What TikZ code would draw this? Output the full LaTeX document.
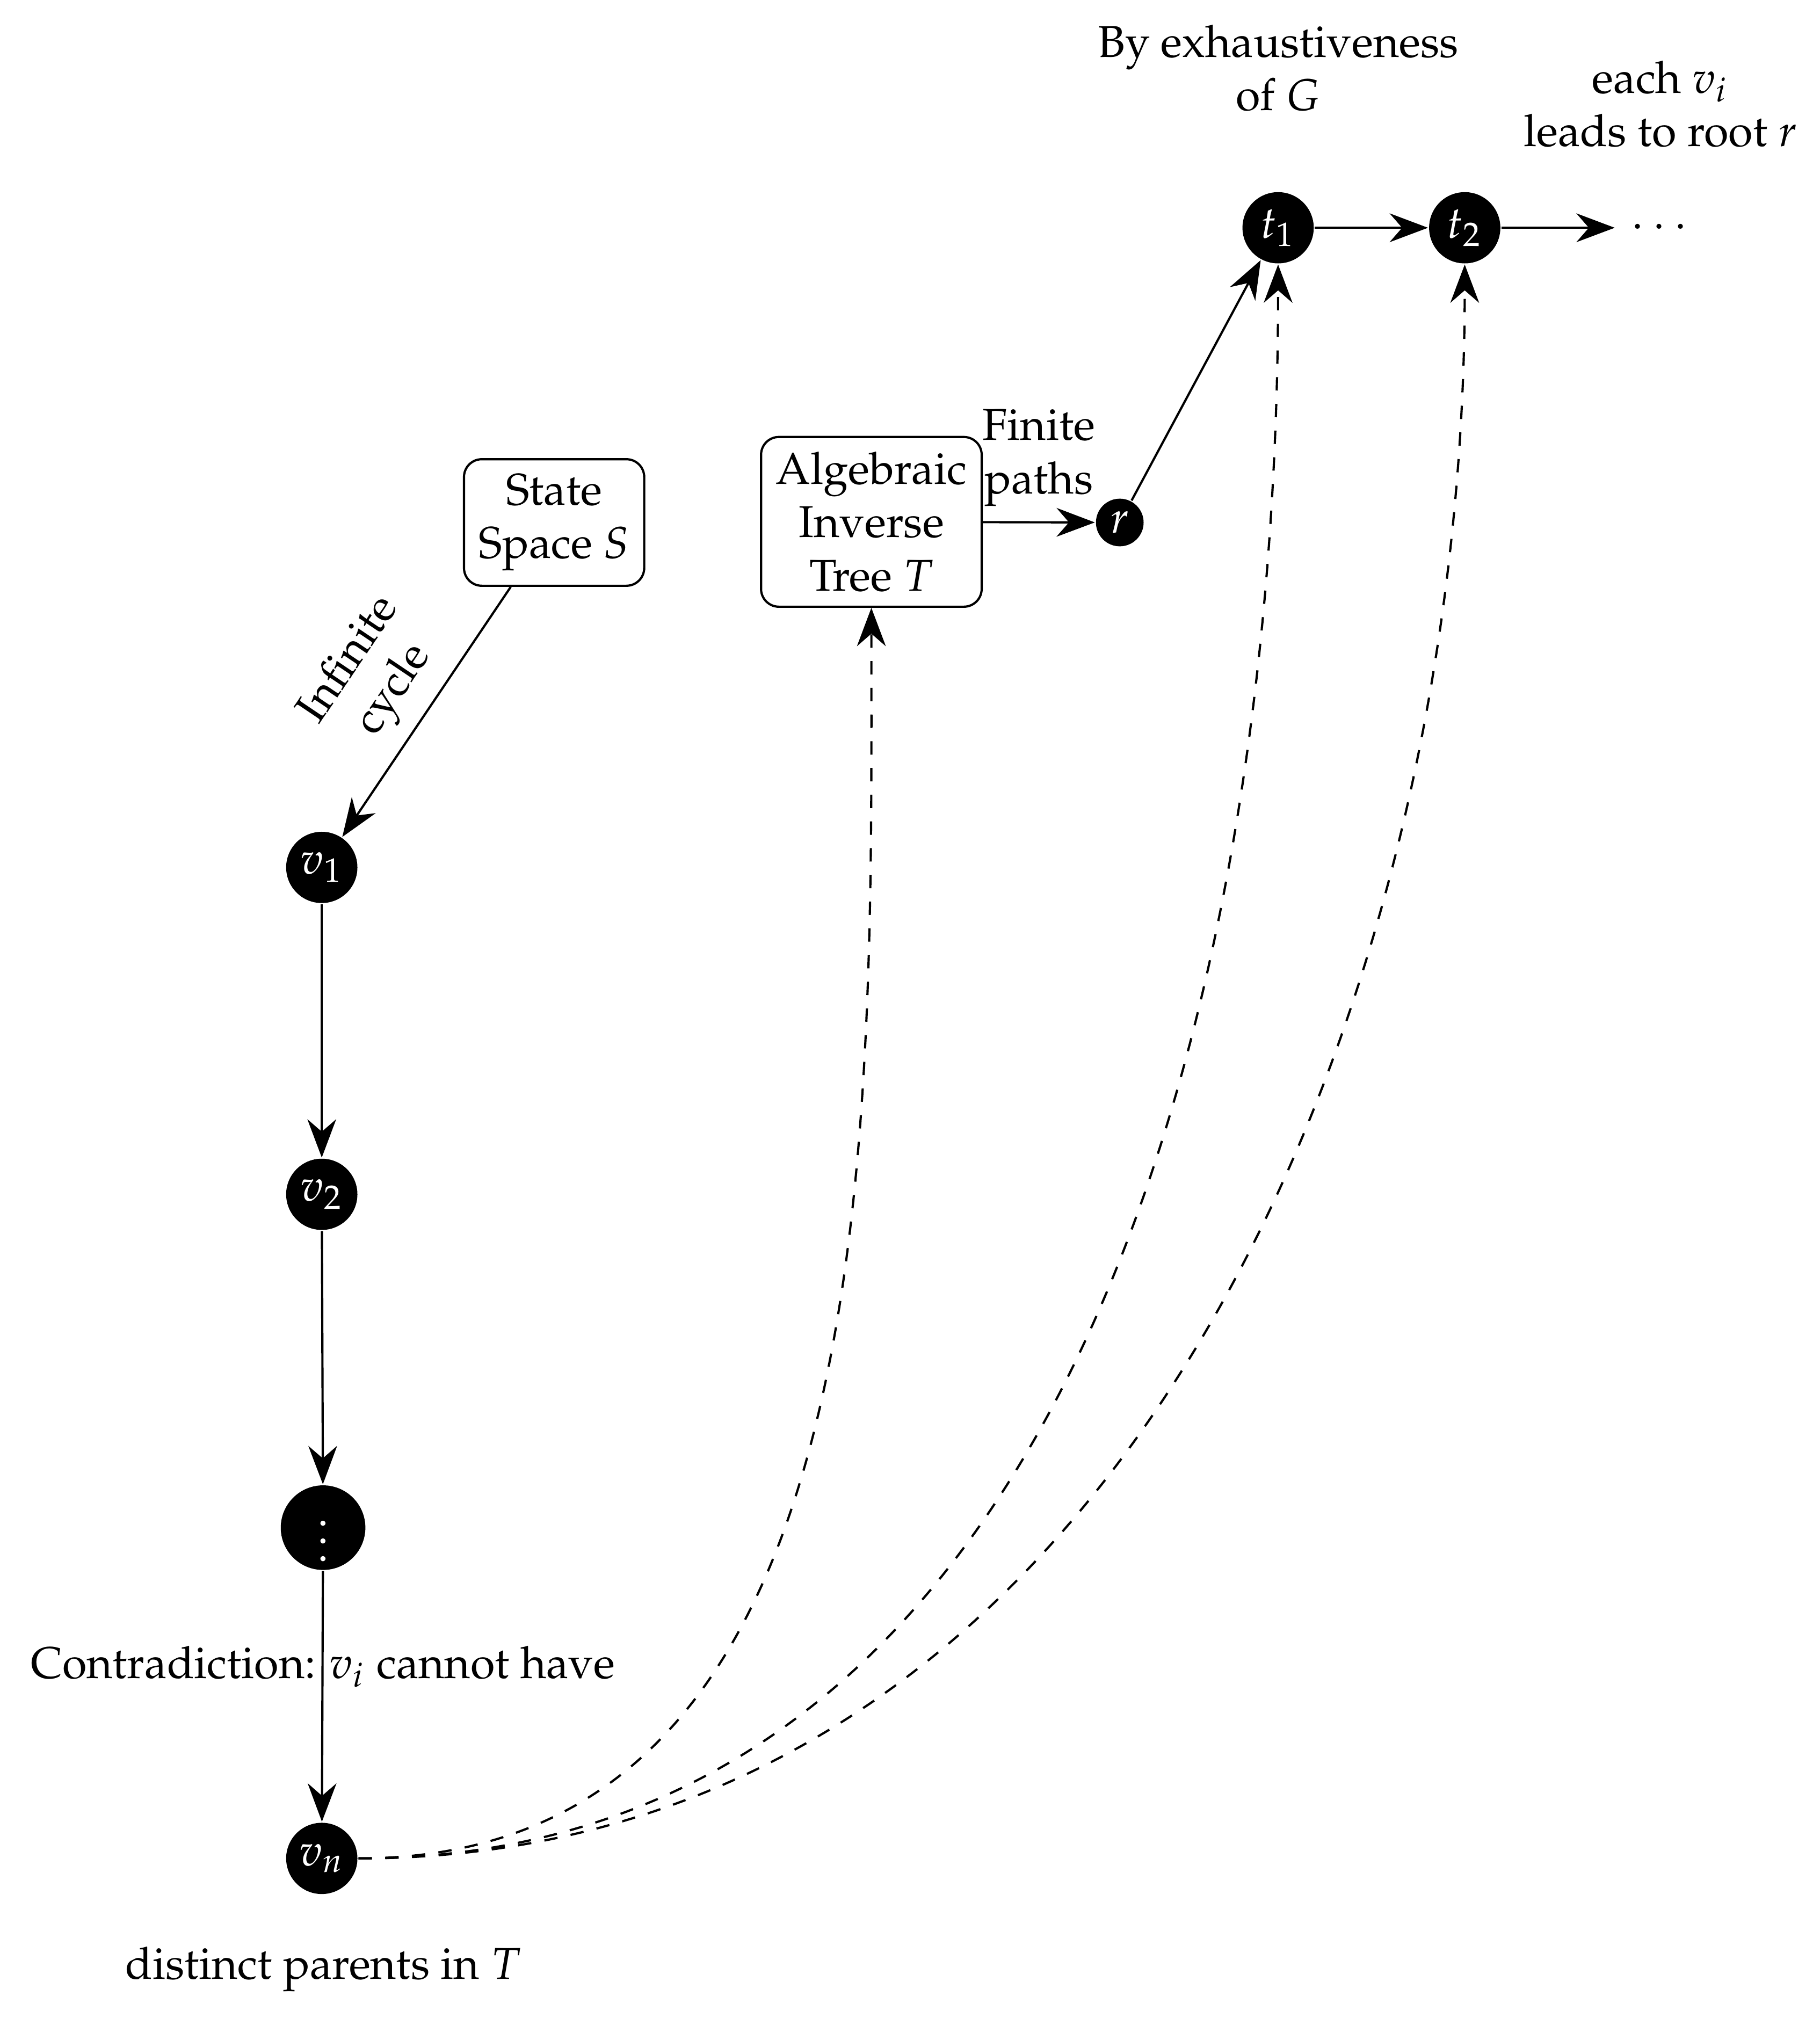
\documentclass[tikz,border=0pt]{standalone}
\usepackage[T1]{fontenc}
\usepackage{mathpazo}
\usetikzlibrary{arrows.meta}
\begin{document}
\begin{tikzpicture}[x=0.289pt,y=0.289pt,line width=0.5pt,
  >={Stealth[length=8.6pt]},
  dot/.style={circle, fill=black, text=white, inner sep=0pt, minimum size=16pt},
  box/.style={draw, rounded corners=4pt, align=center},
  lbl/.style={align=center},
  arr/.style={->},
  dasharr/.style={->, dashed}]
\useasboundingbox (0,0) rectangle (1414,1568);
% boxes and nodes
\node[box] (S) at (430.5,1162) {State\\Space $S$};
\node[box] (T) at (677,1162.5) {Algebraic\\Inverse\\Tree $T$};
\node[dot, minimum size=10.7pt] (r) at (870,1162) {$r$};
\node[dot] (t1) at (993,1391) {$t_1$};
\node[dot] (t2) at (1138,1391) {$t_2$};
\node (tdots) at (1289,1391) {$\cdots$};
\node[dot] (v1) at (250,894) {$v_1$};
\node[dot] (v2) at (250,640) {$v_2$};
\node[dot, minimum size=19pt] (vd) at (251,381) {$\vdots$};
\node[dot] (vn) at (250,124) {$v_n$};
% free labels
\node[lbl] (by) at (993,1515) {By exhaustiveness\\of $G$};
\node[lbl] (each) at (1290,1487) {each $v_i$\\leads to root $r$};
\node (contra) at (251,273) {Contradiction: $v_i$ cannot have};
\node (distinct) at (251,38) {distinct parents in $T$};
% connectors
\draw[arr] (S) -- node[midway, above, sloped, lbl] {Infinite\\cycle} (v1);
\draw[arr] (v1) -- (v2);
\draw[arr] (v2) -- (vd);
\draw[arr] (vd) -- (vn);
\draw[arr] (T) -- node[midway, above, lbl] {Finite\\paths} (r);
\draw[arr] (r) -- (t1);
\draw[arr] (t1) -- (t2);
\draw[arr] (t2) -- (tdots);
\draw[dasharr] (vn) to[out=0, in=-90] (T);
\draw[dasharr] (vn) to[out=0, in=-90] (t1);
\draw[dasharr] (vn) to[out=0, in=-90] (t2);
\end{tikzpicture}
\end{document}
